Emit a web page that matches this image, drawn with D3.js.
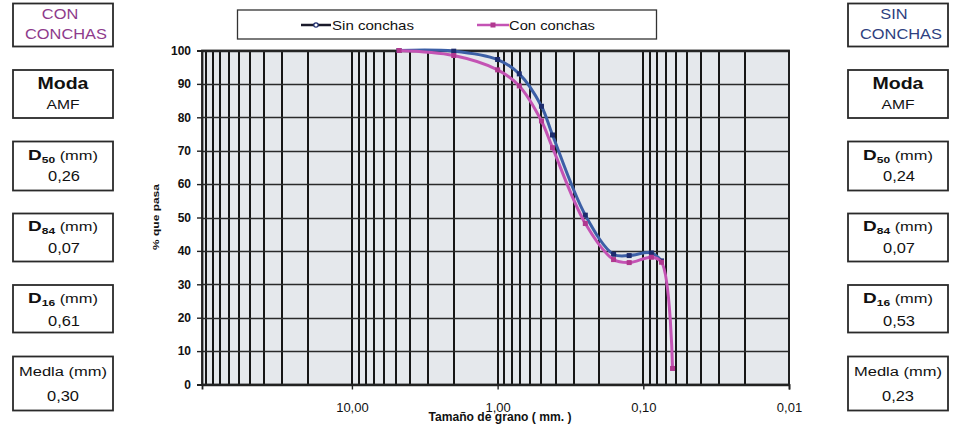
<!DOCTYPE html>
<html>
<head>
<meta charset="utf-8">
<script src="https://cdn.jsdelivr.net/npm/d3@7"></script>
<style>
  html, body { margin: 0; padding: 0; background: #fff; }
  svg { display: block; font-family: "Liberation Sans", Arial, sans-serif; }
</style>
</head>
<body>
<svg id="chart" width="957" height="426"></svg>
<script>
// ---------------- DATA ----------------
const grainSizes = [4.75, 2.0, 1.0, 0.71, 0.5, 0.42, 0.25, 0.16, 0.125, 0.088, 0.075, 0.063];
const sinConchas = [100, 99.8, 97.3, 93.0, 83.3, 74.7, 50.7, 39.0, 38.6, 39.4, 37.0, null];
const conConchas = [100, 98.5, 94.2, 89.4, 78.9, 70.9, 48.2, 37.4, 36.5, 38.1, 36.6, 4.8];
const seriesNames = ["Sin conchas", "Con conchas"];
const xTickValues = [10, 1, 0.1, 0.01];
const xTickLabels = ["10,00", "1,00", "0,10", "0,01"];
const yTickValues = [0, 10, 20, 30, 40, 50, 60, 70, 80, 90, 100];
const xTitle = "Tamaño de grano ( mm. )";
const yTitle = "% que pasa";
const headerLeft = ["CON", "CONCHAS"];
const headerRight = ["SIN", "CONCHAS"];
const statNames = ["Moda", "D|50", "D|84", "D|16", "Medla (mm)"];
const statsCon = ["AMF", "0,26", "0,07", "0,61", "0,30"];
const statsSin = ["AMF", "0,24", "0,07", "0,53", "0,23"];

// ---------------- LAYOUT ----------------
const svg = d3.select("#chart");
const plot = { left: 202, right: 789, top: 50.5, bottom: 384.5 };
const x = d3.scaleLog().domain([106.9, 0.01]).range([plot.left, plot.right]);
const y = d3.scaleLinear().domain([0, 100]).range([plot.bottom, plot.top]);

const colSin = "#3c5fa6", colSinMark = "#1d2c6e";
const colCon = "#c453b4", colConMark = "#b0388f";

// fit a text horizontally to a target width (source is horizontally stretched)
function fit(t, cx, w, sxForced) {
  const len = t.node().getComputedTextLength();
  const sx = sxForced || (w / len);
  t.attr("x", 0).attr("text-anchor", "middle")
   .attr("transform", `translate(${cx},0) scale(${sx},1)`);
  return sx;
}

// background
svg.append("rect").attr("x", plot.left).attr("y", plot.top)
  .attr("width", plot.right - plot.left).attr("height", plot.bottom - plot.top)
  .attr("fill", "#e5e8ec");

// vertical minor log grid
const vGrid = [];
for (let e = 2; e >= -2; e--) {
  for (let k = 9; k >= 1; k--) {
    const v = k * Math.pow(10, e);
    if (v <= 106.9 && v >= 0.01) vGrid.push(v);
  }
}
svg.append("g").selectAll("line").data(vGrid).join("line")
  .attr("x1", d => Math.round(x(d))).attr("x2", d => Math.round(x(d)))
  .attr("y1", plot.top).attr("y2", plot.bottom)
  .attr("stroke", "#161616").attr("stroke-width", 2);

// horizontal grid
svg.append("g").selectAll("line").data(yTickValues).join("line")
  .attr("x1", plot.left).attr("x2", plot.right)
  .attr("y1", d => Math.round(y(d)) + 0.5).attr("y2", d => Math.round(y(d)) + 0.5)
  .attr("stroke", "#2a2a2a").attr("stroke-width", 1.6);

// border
svg.append("rect").attr("x", plot.left).attr("y", plot.top)
  .attr("width", plot.right - plot.left).attr("height", plot.bottom - plot.top)
  .attr("fill", "none").attr("stroke", "#222").attr("stroke-width", 1.8);

// y axis
const yAxis = svg.append("g").attr("transform", `translate(${plot.left},0)`)
  .call(d3.axisLeft(y).tickValues(yTickValues).tickSize(5).tickPadding(6).tickFormat(d3.format("d")));
yAxis.select(".domain").attr("stroke", "#222").attr("stroke-width", 1.8);
yAxis.selectAll(".tick line").attr("stroke", "#222").attr("stroke-width", 1.4);
yAxis.selectAll("text").attr("font-size", 12).attr("font-weight", "bold").attr("fill", "#111")
  .attr("font-family", "Liberation Sans, Arial, sans-serif");

// x axis
const xAxis = svg.append("g").attr("transform", `translate(0,${plot.bottom})`)
  .call(d3.axisBottom(x).tickValues(xTickValues).tickSize(5).tickPadding(13)
    .tickFormat((d, i) => xTickLabels[i]));
xAxis.select(".domain").attr("stroke", "#222").attr("stroke-width", 1.8);
xAxis.selectAll(".tick line").attr("stroke", "#222").attr("stroke-width", 1.4);
xAxis.selectAll("text").attr("font-size", 13).attr("fill", "#111")
  .attr("font-family", "Liberation Sans, Arial, sans-serif");

// axis titles
const xt = svg.append("text").attr("y", 421).attr("font-size", 12).attr("font-weight", "bold")
  .attr("fill", "#111").text(xTitle);
fit(xt, 500, 143);
const yg = svg.append("g").attr("transform", "translate(159,217) rotate(-90)");
const yt = yg.append("text").attr("y", 0).attr("font-size", 9.5).attr("font-weight", "bold")
  .attr("fill", "#111").text(yTitle);
fit(yt, 0, 66);

// series
const line = d3.line().defined(d => d[1] != null)
  .x(d => x(d[0])).y(d => y(d[1])).curve(d3.curveCatmullRom.alpha(0.5));
const sinPts = grainSizes.map((g, i) => [g, sinConchas[i]]).filter(d => d[1] != null);
const conPts = grainSizes.map((g, i) => [g, conConchas[i]]).filter(d => d[1] != null);

svg.append("path").datum(sinPts).attr("d", line).attr("fill", "none")
  .attr("stroke", colSin).attr("stroke-width", 3);
svg.append("g").selectAll("rect").data(sinPts).join("rect")
  .attr("x", d => x(d[0]) - 2.5).attr("y", d => y(d[1]) - 2.5)
  .attr("width", 5).attr("height", 5).attr("fill", colSinMark);

svg.append("path").datum(conPts).attr("d", line).attr("fill", "none")
  .attr("stroke", colCon).attr("stroke-width", 3);
svg.append("g").selectAll("rect").data(conPts).join("rect")
  .attr("x", d => x(d[0]) - 2.5).attr("y", d => y(d[1]) - 2.5)
  .attr("width", 5).attr("height", 5).attr("fill", colConMark);

// legend
svg.append("rect").attr("x", 237.5).attr("y", 10).attr("width", 419).attr("height", 29)
  .attr("fill", "#fff").attr("stroke", "#333").attr("stroke-width", 1.3);
const legItems = [
  { name: seriesNames[0], x1: 301, x2: 331, col: colSin, mk: colSinMark, tx: 373, tw: 82, circle: true },
  { name: seriesNames[1], x1: 477, x2: 509, col: colCon, mk: colConMark, tx: 552, tw: 86, circle: false }
];
legItems.forEach(it => {
  svg.append("line").attr("x1", it.x1).attr("x2", it.x2).attr("y1", 25).attr("y2", 25)
    .attr("stroke", it.circle ? "#1a1a2a" : it.col).attr("stroke-width", 2.5);
  if (it.circle) {
    svg.append("circle").attr("cx", (it.x1 + it.x2) / 2).attr("cy", 25).attr("r", 2.2)
      .attr("fill", "#fff").attr("stroke", colSinMark).attr("stroke-width", 1.2);
  } else {
    svg.append("rect").attr("x", (it.x1 + it.x2) / 2 - 2.5).attr("y", 22.5)
      .attr("width", 5).attr("height", 5).attr("fill", it.mk);
  }
  const t = svg.append("text").attr("y", 30).attr("font-size", 13).attr("fill", "#111").text(it.name);
  fit(t, it.tx, it.tw);
});

// side boxes
const boxY = [[3.5, 46.5], [70, 118], [141.5, 190.5], [213.5, 261.5], [285, 332.5], [356.5, 410.5]];
function drawColumn(x0, x1, header, headerCol, stats, hdrOffset) {
  const cx = (x0 + x1) / 2;
  boxY.forEach(([ya, yb]) => {
    svg.append("rect").attr("x", x0).attr("y", ya).attr("width", x1 - x0).attr("height", yb - ya)
      .attr("fill", "#fff").attr("stroke", "#2a2a2a").attr("stroke-width", 1.8);
  });
  // header
  const h2 = svg.append("text").attr("y", 39.5).attr("font-size", 14).attr("fill", headerCol).text(header[1]);
  const sx = fit(h2, cx + 3, 82);
  const h1 = svg.append("text").attr("y", 19.5).attr("font-size", 14).attr("fill", headerCol).text(header[0]);
  fit(h1, cx + hdrOffset, 0, sx);
  // Moda
  const m = svg.append("text").attr("y", 89.5).attr("font-size", 16).attr("font-weight", "bold")
    .attr("fill", "#111").text(statNames[0]);
  fit(m, cx, 51);
  const a = svg.append("text").attr("y", 109.5).attr("font-size", 13.5).attr("fill", "#111").text(stats[0]);
  fit(a, cx, 33);
  // D boxes
  const base = [[160, 181.5], [231.5, 253.5], [303.5, 326.5]];
  [1, 2, 3].forEach((si, k) => {
    const parts = statNames[si].split("|");
    const t = svg.append("text").attr("y", base[k][0]).attr("fill", "#111");
    t.append("tspan").attr("font-size", 15).attr("font-weight", "bold").text(parts[0]);
    t.append("tspan").attr("font-size", 9.5).attr("font-weight", "bold").attr("dy", 3).text(parts[1]);
    t.append("tspan").attr("font-size", 13).attr("dy", -3).text(" (mm)");
    fit(t, cx, 70);
    const v = svg.append("text").attr("y", base[k][1]).attr("font-size", 14.5).attr("fill", "#111").text(stats[si]);
    fit(v, cx + 1, 32);
  });
  // Media
  const md = svg.append("text").attr("y", 376.5).attr("font-size", 13.5).attr("fill", "#111").text(statNames[4]);
  fit(md, cx, 88);
  const mv = svg.append("text").attr("y", 401.5).attr("font-size", 14.5).attr("fill", "#111").text(stats[4]);
  fit(mv, cx, 32);
}
drawColumn(13, 113, headerLeft, "#8e3b8c", statsCon, -3);
drawColumn(848, 948, headerRight, "#2e3f80", statsSin, -4);
</script>
</body>
</html>
